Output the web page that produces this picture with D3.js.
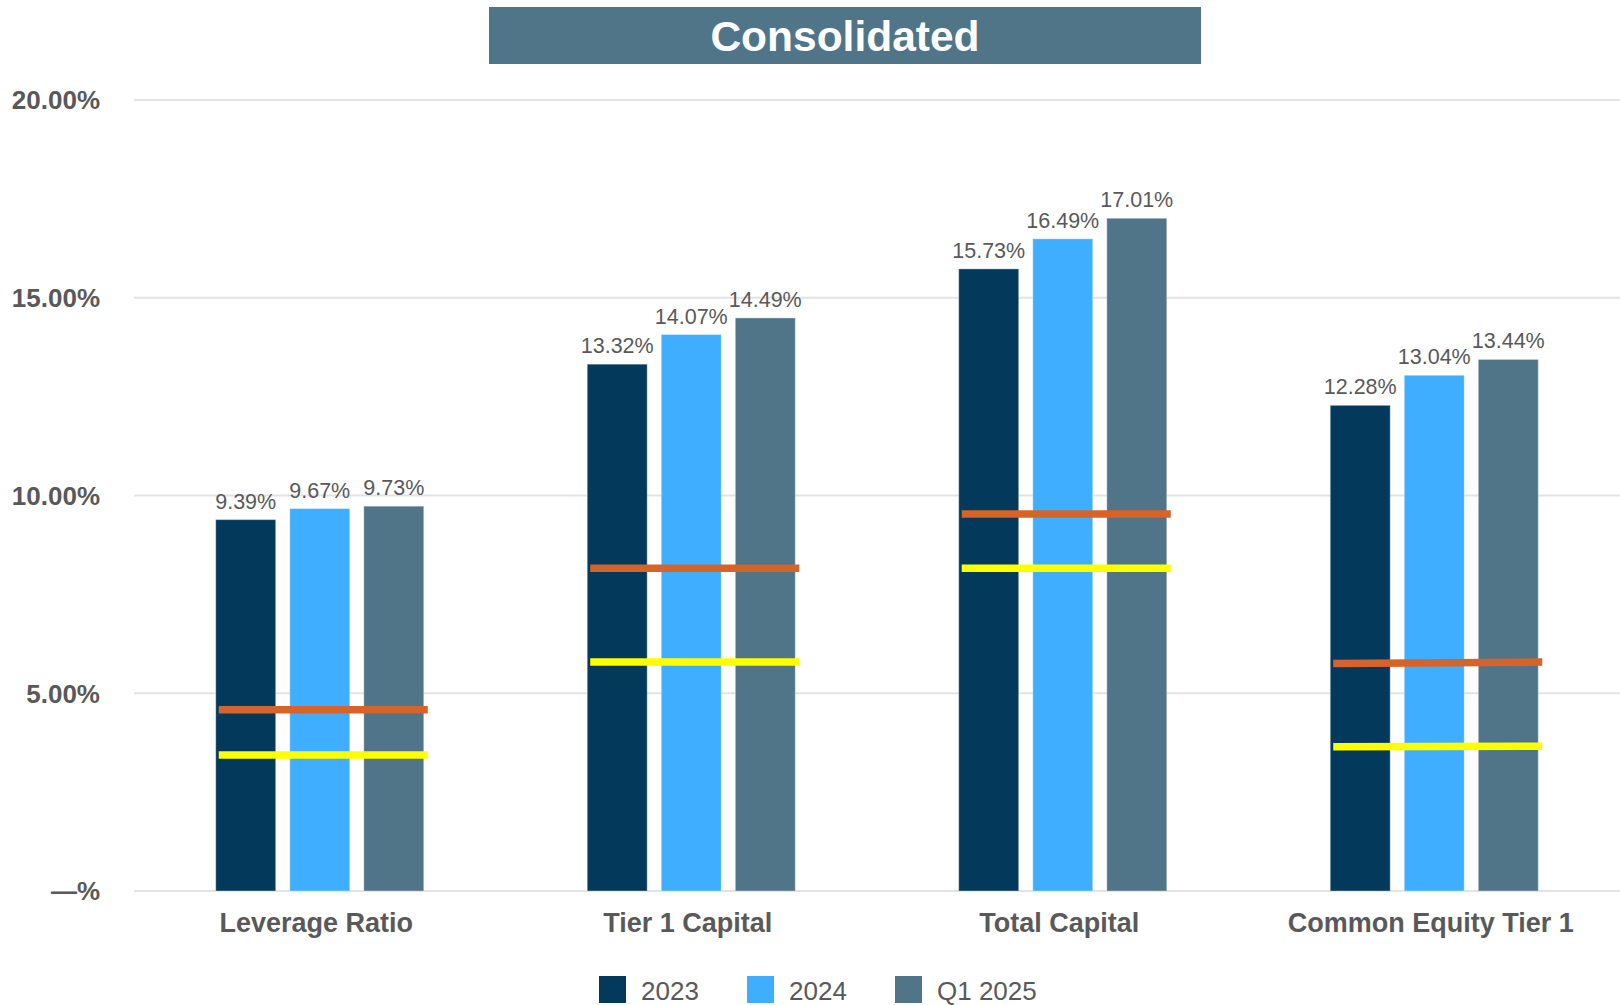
<!DOCTYPE html>
<html>
<head>
<meta charset="utf-8">
<script src="https://cdn.jsdelivr.net/npm/d3@7"></script>
<style>
  html, body { margin: 0; padding: 0; background: #ffffff; }
  svg { display: block; }
  text { font-family: "Liberation Sans", Arial, sans-serif; }
</style>
</head>
<body>
<svg id="chart" width="1620" height="1005"></svg>
<script>
// Capital ratios by category and period
const categories = ["Leverage Ratio", "Tier 1 Capital", "Total Capital", "Common Equity Tier 1"];
const seriesNames = ["2023", "2024", "Q1 2025"];
const values2023 = [9.39, 13.32, 15.73, 12.28];
const values2024 = [9.67, 14.07, 16.49, 13.04];
const valuesQ12025 = [9.73, 14.49, 17.01, 13.44];
// Requirement markers per category, as [left end, right end] in percent
const orangeMarks = [[4.58, 4.58], [8.16, 8.16], [9.53, 9.53], [5.75, 5.79]];
const yellowMarks = [[3.44, 3.44], [5.79, 5.79], [8.16, 8.16], [3.65, 3.66]];
const yTicks = [0, 5, 10, 15, 20];
const yTickLabels = ["—%", "5.00%", "10.00%", "15.00%", "20.00%"];
const chartTitle = "Consolidated";

const seriesColors = ["#033A5B", "#40AEFF", "#507589"];
const textColor = "#595959";

const svg = d3.select("#chart");

const plotLeft = 134, plotRight = 1620, plotTop = 100, plotBottom = 891;

const x0 = d3.scaleBand().domain(categories).range([plotLeft, plotRight]).paddingInner(0).paddingOuter(0);
const bw = x0.bandwidth();
const x1 = d3.scaleBand().domain(seriesNames).range([bw * 0.22, bw * 0.78]).paddingInner(0.19).paddingOuter(0);
const y = d3.scaleLinear().domain([0, 20]).range([plotBottom, plotTop]);

// Title banner
svg.append("rect")
  .attr("x", 489).attr("y", 7).attr("width", 712).attr("height", 57)
  .attr("fill", "#507589");
svg.append("text")
  .attr("x", 845).attr("y", 50.5)
  .attr("text-anchor", "middle")
  .attr("fill", "#ffffff")
  .attr("font-size", 42.5).attr("font-weight", "bold")
  .text(chartTitle);

// Gridlines
svg.append("g").selectAll("line").data(yTicks).join("line")
  .attr("x1", plotLeft).attr("x2", plotRight)
  .attr("y1", d => y(d)).attr("y2", d => y(d))
  .attr("stroke", "#E3E3E3").attr("stroke-width", 2);

// Y-axis labels
svg.append("g").selectAll("text").data(yTicks).join("text")
  .attr("x", 100).attr("y", d => y(d)).attr("dy", "0.36em")
  .attr("text-anchor", "end")
  .attr("fill", textColor).attr("font-size", 26).attr("font-weight", "bold")
  .text((d, i) => yTickLabels[i]);

// Bars
const table = categories.map((c, i) => ({
  category: c,
  items: [
    { series: seriesNames[0], value: values2023[i] },
    { series: seriesNames[1], value: values2024[i] },
    { series: seriesNames[2], value: valuesQ12025[i] }
  ]
}));

const groups = svg.append("g").selectAll("g").data(table).join("g")
  .attr("transform", d => `translate(${x0(d.category)},0)`);

groups.selectAll("rect").data(d => d.items).join("rect")
  .attr("x", d => x1(d.series))
  .attr("y", d => y(d.value))
  .attr("width", x1.bandwidth())
  .attr("height", d => y(0) - y(d.value))
  .attr("fill", (d, i) => seriesColors[i])
  .attr("stroke", "#ffffff").attr("stroke-opacity", 0.35).attr("stroke-width", 1);

groups.selectAll("text.value").data(d => d.items).join("text")
  .attr("class", "value")
  .attr("x", d => x1(d.series) + x1.bandwidth() / 2)
  .attr("y", d => y(d.value) - 11)
  .attr("text-anchor", "middle")
  .attr("fill", textColor).attr("font-size", 21.5)
  .text(d => d.value.toFixed(2) + "%");

// Requirement markers spanning each group
function drawMarks(marks, color) {
  svg.append("g").selectAll("line").data(categories).join("line")
    .attr("x1", c => x0(c) + x1.range()[0] + 3)
    .attr("x2", c => x0(c) + x1.range()[1] + 4)
    .attr("y1", (c, i) => y(marks[i][0]))
    .attr("y2", (c, i) => y(marks[i][1]))
    .attr("stroke", color).attr("stroke-width", 7.5);
}
drawMarks(orangeMarks, "#D6642A");
drawMarks(yellowMarks, "#FFFF00");

// Category labels
svg.append("g").selectAll("text").data(categories).join("text")
  .attr("x", c => x0(c) + bw / 2 - 3.5)
  .attr("y", 932)
  .attr("text-anchor", "middle")
  .attr("fill", textColor).attr("font-size", 27).attr("font-weight", "bold")
  .text(c => c);

// Legend
const legendX = [599, 747, 895];
const legend = svg.append("g").selectAll("g").data(seriesNames).join("g")
  .attr("transform", (d, i) => `translate(${legendX[i]},976)`);
legend.append("rect")
  .attr("width", 27).attr("height", 27)
  .attr("fill", (d, i) => seriesColors[i]);
legend.append("text")
  .attr("x", 42).attr("y", 24)
  .attr("fill", textColor).attr("font-size", 26)
  .text(d => d);
</script>
</body>
</html>
